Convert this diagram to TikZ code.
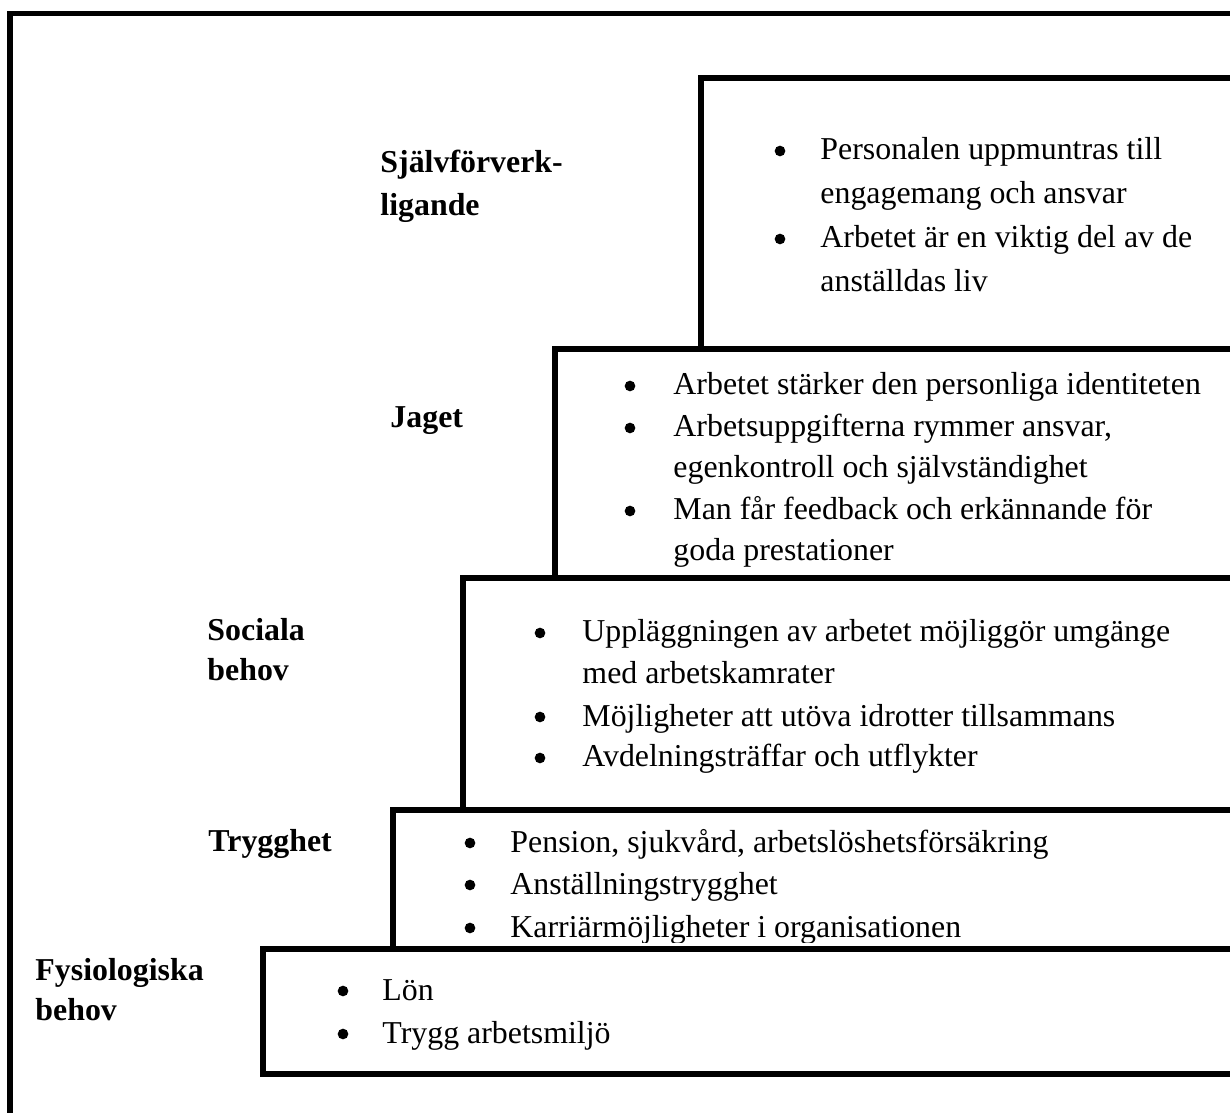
\documentclass[tikz,border=0pt]{standalone}
\usepackage{fontspec}
\setmainfont{Liberation Serif}
\usepackage{tikz}

\newcommand{\storlek}{\fontsize{13.6}{16}\selectfont}

\begin{document}
\begin{tikzpicture}[x=0.015cm, y=-0.015cm,
    ram/.style={line width=2.2pt},
    niva/.style={anchor=base west, inner sep=0pt, font=\storlek\bfseries},
    rad/.style={anchor=base west, inner sep=0pt, font=\storlek},
    punkt/.style={circle, fill, inner sep=0pt, minimum size=0.16cm}]
  \useasboundingbox (0,0) rectangle (1230,1113);
  \clip (0,0) rectangle (1230,1113);

  % niva-rubriker till vanster
  \node[niva] (sjalv1) at (380,173) {Självförverk-};
  \node[niva] (sjalv2) at (380,216) {ligande};
  \node[niva] (jaget) at (390,428) {Jaget};
  \node[niva] (soc1) at (207,641) {Sociala};
  \node[niva] (soc2) at (207,681) {behov};
  \node[niva] (trygg) at (208,851) {Trygghet};
  \node[niva] (fys1) at (35,980) {Fysiologiska};
  \node[niva] (fys2) at (35,1020) {behov};

  % sjalvforverkligande
  \node[rad] (s1) at (820,160) {Personalen uppmuntras till};
  \node[rad] (s2) at (820,204) {engagemang och ansvar};
  \node[rad] (s3) at (820,248) {Arbetet är en viktig del av de};
  \node[rad] (s4) at (820,292) {anställdas liv};

  % jaget
  \node[rad] (j1) at (673,395) {Arbetet stärker den personliga identiteten};
  \node[rad] (j2) at (673,437) {Arbetsuppgifterna rymmer ansvar,};
  \node[rad] (j3) at (673,478) {egenkontroll och självständighet};
  \node[rad] (j4) at (673,520) {Man får feedback och erkännande för};
  \node[rad] (j5) at (673,561) {goda prestationer};

  % sociala behov
  \node[rad] (b1) at (582,642) {Uppläggningen av arbetet möjliggör umgänge};
  \node[rad] (b2) at (582,684) {med arbetskamrater};
  \node[rad] (b3) at (582,726) {Möjligheter att utöva idrotter tillsammans};
  \node[rad] (b4) at (582,767) {Avdelningsträffar och utflykter};

  % trygghet (sista raden kapas av rutan under)
  \begin{scope}
    \clip (393,811) rectangle (1230,942);
    \node[rad] (t1) at (510,852) {Pension, sjukvård, arbetslöshetsförsäkring};
    \node[rad] (t2) at (510,894) {Anställningstrygghet};
    \node[rad] (t3) at (510,937) {Karriärmöjligheter i organisationen};
  \end{scope}

  % fysiologiska behov
  \node[rad] (f1) at (382,1000) {Lön};
  \node[rad] (f2) at (382,1043) {Trygg arbetsmiljö};

  % punkter
  \foreach \x/\y [count=\i] in {780/151, 780/239, 630/386, 630/428, 630/511,
      540/633, 540/717, 540/758, 470/843, 470/885, 470/928, 343/991, 343/1034}
    \node[punkt] (p\i) at (\x,\y) {};

  % ramen och trappstegen
  \draw[ram] (10,1200) |- (1300,13.5);
  \draw[ram] (701,349) |- (1300,78);
  \draw[ram] (555,578) |- (1300,349);
  \draw[ram] (463,808) |- (1300,578);
  \draw[ram] (393,949) |- (1300,810);
  \draw[ram] (1300,1074) -| (263,949) -- (1300,949);
\end{tikzpicture}
\end{document}
